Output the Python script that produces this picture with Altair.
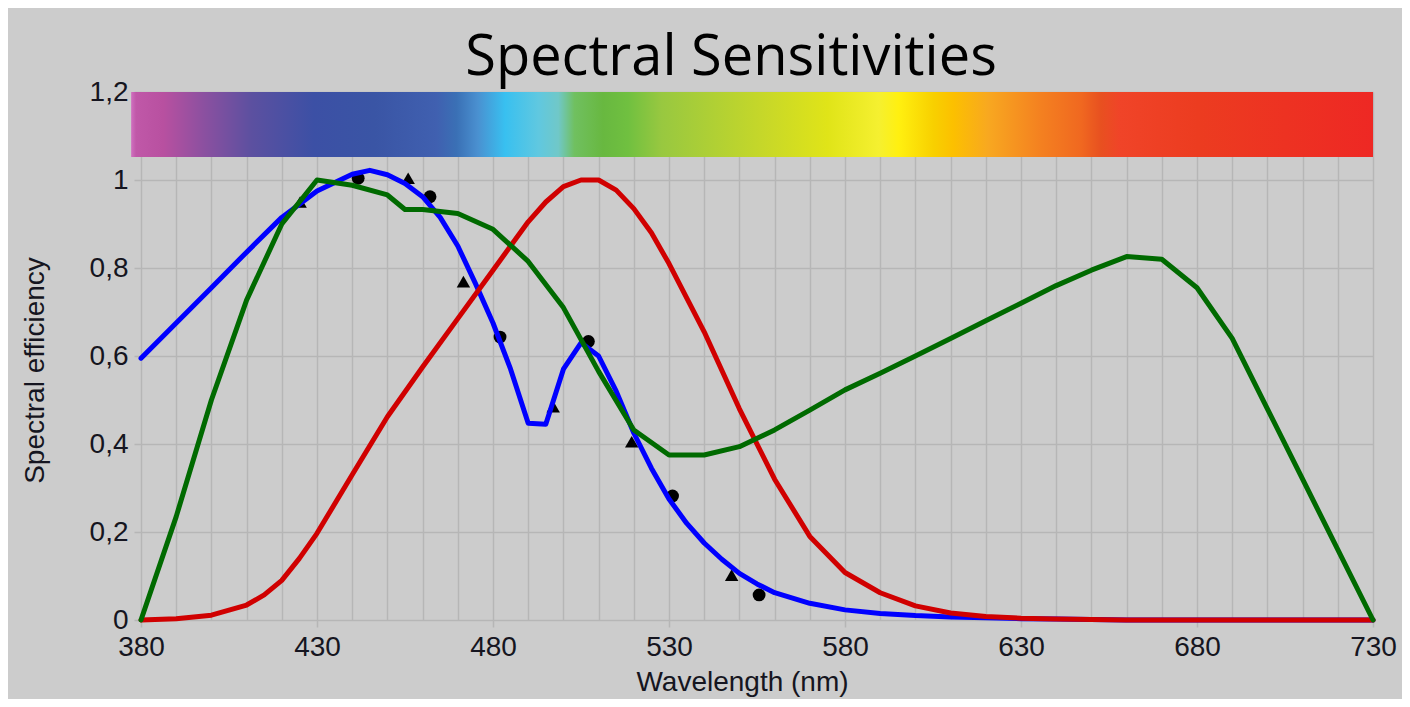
import altair as alt
import pandas as pd

# ---- data ----
blue_wl = [380, 390, 400, 410, 420, 430, 440, 445, 450, 455, 460, 465, 470, 475, 480, 485, 490, 495,
           500, 505, 510, 515, 520, 525, 530, 535, 540, 545, 550, 555, 560, 570, 580, 590, 600,
           610, 620, 630, 640, 650, 660, 670, 680, 690, 700, 710, 720, 730]
blue_val = [0.595, 0.675, 0.755, 0.836, 0.915, 0.975, 1.013, 1.022, 1.012, 0.992, 0.962, 0.915, 0.85,
            0.765, 0.675, 0.57, 0.447, 0.445, 0.57, 0.63, 0.60, 0.52, 0.425, 0.345, 0.275, 0.22,
            0.175, 0.138, 0.106, 0.082, 0.062, 0.038, 0.023, 0.015, 0.010, 0.007, 0.005, 0.003,
            0.002, 0.001, 0, 0, 0, 0, 0, 0, 0, 0]

red_wl = [380, 390, 400, 410, 415, 420, 425, 430, 440, 450, 460, 470, 480, 490, 495, 500, 505, 510,
          515, 520, 525, 530, 540, 550, 560, 570, 580, 590, 600, 610, 620, 630, 640, 650, 660,
          670, 680, 690, 700, 710, 720, 730]
red_val = [0, 0.003, 0.011, 0.034, 0.057, 0.09, 0.14, 0.197, 0.33, 0.462, 0.575, 0.685, 0.795,
           0.905, 0.95, 0.985, 1.0, 1.0, 0.977, 0.935, 0.88, 0.81, 0.655, 0.48, 0.32, 0.19, 0.108,
           0.062, 0.032, 0.016, 0.008, 0.004, 0.002, 0.001, 0, 0, 0, 0, 0, 0, 0, 0]

green_wl = [380, 390, 400, 410, 420, 430, 440, 450, 455, 460, 470, 480, 490, 500, 510, 520, 530,
            540, 550, 560, 570, 580, 590, 600, 610, 620, 630, 640, 650, 660, 670, 680, 690, 700,
            710, 720, 730]
green_val = [0, 0.235, 0.5, 0.727, 0.9, 1.0, 0.988, 0.966, 0.933, 0.933, 0.924, 0.888, 0.815, 0.71,
             0.565, 0.432, 0.375, 0.375, 0.394, 0.432, 0.477, 0.523, 0.561, 0.6, 0.64, 0.68, 0.72,
             0.76, 0.795, 0.826, 0.82, 0.755, 0.64, 0.48, 0.32, 0.16, 0]

circle_wl = [441.7, 462.1, 482.0, 507.1, 531.0, 555.6]
circle_val = [1.004, 0.962, 0.643, 0.633, 0.282, 0.057]
triangle_wl = [425.2, 455.9, 471.6, 497.1, 519.4, 547.8]
triangle_val = [0.95, 1.004, 0.769, 0.485, 0.405, 0.102]

# spectrum band (wavelength extent, efficiency extent) and its colour stops
band_wl = [377.2, 730]
band_val = [1.052, 1.2]
stop_offsets = [0.0, 0.004, 0.026, 0.058, 0.097, 0.147, 0.196, 0.246, 0.262, 0.279, 0.301, 0.328,
                0.344, 0.357, 0.380, 0.400, 0.427, 0.512, 0.561, 0.602, 0.618, 0.646, 0.662, 0.690,
                0.733, 0.765, 0.781, 0.796, 0.859, 1.0]
stop_colors = ["#d070c0", "#c058a8", "#b850a0", "#8c50a0", "#5c50a0", "#3c50a5", "#3a55a5",
               "#4060b0", "#3a70b5", "#4a90d0", "#38c0f0", "#60c8e0", "#70c8c8", "#70c060",
               "#68b840", "#70c040", "#98c840", "#c8d828", "#e0e418", "#f5f030", "#fff010",
               "#f8d000", "#fcc000", "#f8a820", "#f48020", "#f06820", "#e85020", "#f04428",
               "#ec3c20", "#ee2824"]

x_ticks = list(range(380, 731, 10))
y_ticks = [0, 0.2, 0.4, 0.6, 0.8, 1.0, 1.2]

FONT = "Liberation Sans"
GRID = "#b6b6b6"
TXT = "#151520"

x_axis = alt.Axis(
    values=x_ticks,
    labelExpr="datum.value % 50 == 30 ? datum.label : ''",
    tickOpacity={"condition": {"test": "datum.value % 50 == 30", "value": 1}, "value": 0},
    grid=True, gridColor=GRID, gridWidth=1.5, domain=False,
    tickColor=GRID, tickSize=7, tickWidth=1.5,
    labelFont=FONT, labelFontSize=28, labelColor=TXT, labelPadding=6,
    labelFlush=False, labelOverlap=False,
    title="Wavelength (nm)", titleFont=FONT, titleFontSize=28, titleFontWeight="normal",
    titleColor=TXT, titleX=601, titleY=62, titleBaseline="middle", titleAnchor="middle",
)
y_axis = alt.Axis(
    values=y_ticks,
    labelExpr="replace(format(datum.value, '~g'), '.', ',')",
    grid=True, gridColor=GRID, gridWidth=1.5, domain=False,
    tickColor=GRID, tickSize=7, tickWidth=1.5,
    labelFont=FONT, labelFontSize=28, labelColor=TXT, labelPadding=6,
    labelFlush=False, labelOverlap=False,
    title="Spectral efficiency", titleFont=FONT, titleFontSize=28, titleFontWeight="normal",
    titleColor=TXT, titleX=-106, titleY=278, titleAngle=-90, titleBaseline="middle",
    titleAnchor="middle",
)
x_scale = alt.Scale(domain=[380, 730], nice=False, zero=False)
y_scale = alt.Scale(domain=[0, 1.2], nice=False)

band_df = pd.DataFrame({"x0": [band_wl[0]], "x1": [band_wl[1]],
                        "y0": [band_val[0]], "y1": [band_val[1]]})
gradient = alt.LinearGradient(
    gradient="linear", x1=0, x2=1, y1=0, y2=0,
    stops=[alt.GradientStop(offset=o, color=c) for o, c in zip(stop_offsets, stop_colors)],
)
band = alt.Chart(band_df).mark_rect(color=gradient, strokeWidth=0).encode(
    x=alt.X("x0:Q", scale=x_scale, axis=x_axis),
    x2="x1:Q",
    y=alt.Y("y0:Q", scale=y_scale, axis=y_axis),
    y2="y1:Q",
)

def curve(wl, val, color):
    df = pd.DataFrame({"wl": wl, "val": val})
    return alt.Chart(df).mark_line(color=color, strokeWidth=5, strokeJoin="round",
                                   strokeCap="round").encode(
        x=alt.X("wl:Q", scale=x_scale, axis=x_axis),
        y=alt.Y("val:Q", scale=y_scale, axis=y_axis),
    )

circles = alt.Chart(pd.DataFrame({"wl": circle_wl, "val": circle_val})).mark_point(
    shape="circle", filled=True, color="black", size=165, opacity=1).encode(
    x=alt.X("wl:Q", scale=x_scale, axis=x_axis),
    y=alt.Y("val:Q", scale=y_scale, axis=y_axis),
)
triangles = alt.Chart(pd.DataFrame({"wl": triangle_wl, "val": triangle_val})).mark_point(
    shape="triangle-up", filled=True, color="black", size=180, opacity=1).encode(
    x=alt.X("wl:Q", scale=x_scale, axis=x_axis),
    y=alt.Y("val:Q", scale=y_scale, axis=y_axis),
)

chart = alt.layer(
    band, circles, triangles,
    curve(blue_wl, blue_val, "#0000ff"),
    curve(red_wl, red_val, "#d00000"),
    curve(green_wl, green_val, "#006a00"),
).properties(
    width=1232, height=528,
    autosize=alt.AutoSizeParams(type="none"),
    padding={"left": 133, "top": 84, "right": 29, "bottom": 79},
    title=alt.TitleParams("Spectral Sensitivities", font="Open Sans", fontSize=56,
                          fontWeight="normal", color="black", anchor="middle", dx=-26,
                          offset=-9),
).configure(background="#cccccc").configure_view(stroke=None)

chart.save("out.html", embed_options={"renderer": "svg", "actions": False})
